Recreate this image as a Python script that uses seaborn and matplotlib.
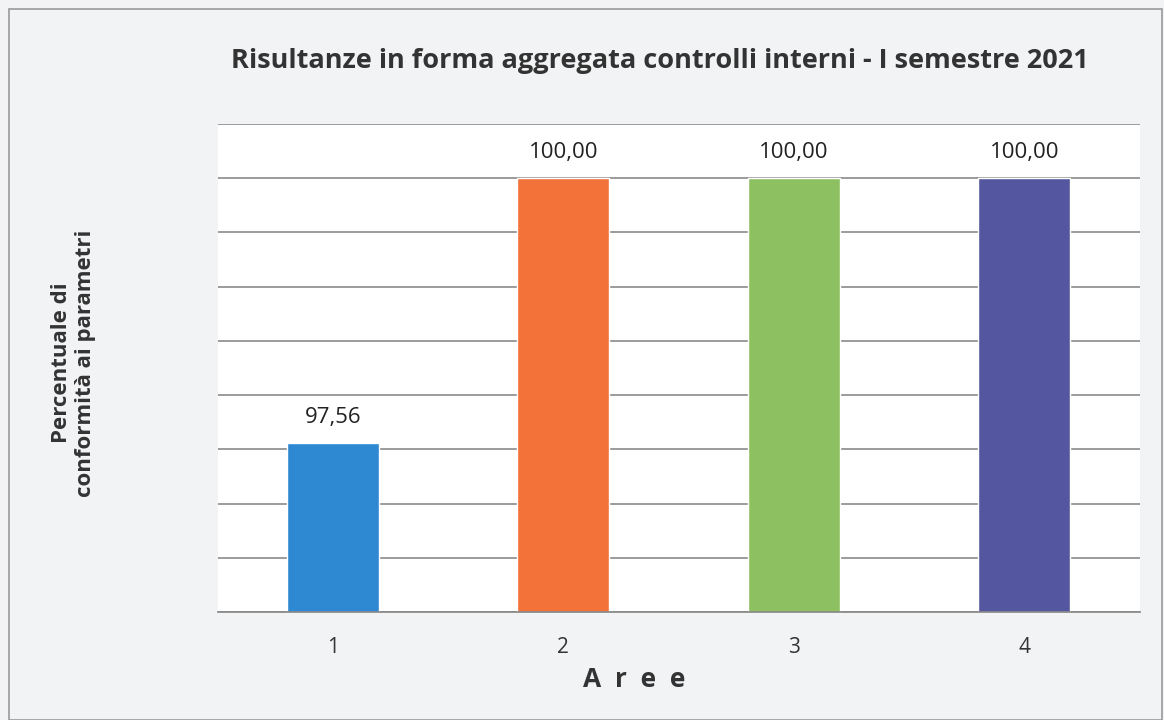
import seaborn as sns
import matplotlib.pyplot as plt
from matplotlib.patches import Rectangle
import pandas as pd

aree = ['1', '2', '3', '4']
conformita = [97.56, 100.00, 100.00, 100.00]
etichette = ['97,56', '100,00', '100,00', '100,00']
colori = ['#2F88D2', '#F2723A', '#8CC061', '#5457A0']

sns.set_theme(style='white')
plt.rcParams['font.family'] = ['Open Sans', 'DejaVu Sans']

fig = plt.figure(figsize=(11.64, 7.2), dpi=100)
fig.patch.set_facecolor('#F1F3F5')
ax = fig.add_axes([0.187, 0.15, 0.792, 0.678])

df = pd.DataFrame({'Aree': aree, 'Valore': conformita})
sns.barplot(data=df, x='Aree', y='Valore', hue='Aree', palette=colori,
            width=0.4, legend=False, ax=ax, saturation=1)

ax.set_ylim(96, 100.5)
ax.set_yticks([96 + 0.5 * i for i in range(10)])
ax.yaxis.grid(True, color='#8a8a8a', linewidth=1.2)
ax.set_axisbelow(True)
ax.tick_params(axis='y', left=False, labelleft=False)
ax.tick_params(axis='x', labelsize=15, colors='#333333', pad=12)
for s in ['top', 'right', 'left']:
    ax.spines[s].set_visible(False)
ax.spines['bottom'].set_color('#8a8a8a')

for i, (v, t) in enumerate(zip(conformita, etichette)):
    ax.text(i, v + 0.14, t, ha='center', va='bottom', fontsize=16, color='#222222')

ax.set_xlabel('A  r  e  e', fontsize=19, fontweight='bold', color='#333333')
ax.xaxis.set_label_coords(0.452, -0.11)
ax.set_ylabel('Percentuale di\nconformità ai parametri', fontsize=16,
              fontweight='bold', color='#333333')
ax.yaxis.set_label_coords(-0.132, 0.51)
ax.set_title('Risultanze in forma aggregata controlli interni - I semestre 2021',
             fontsize=19.5, fontweight='bold', color='#333333', pad=40, x=0.48)

fig.patches.append(Rectangle((0.008, 0.0), 0.99, 0.988, transform=fig.transFigure,
                             fill=False, edgecolor='#999999', linewidth=1.2))

fig.savefig('out.png', dpi=100, facecolor=fig.get_facecolor())
